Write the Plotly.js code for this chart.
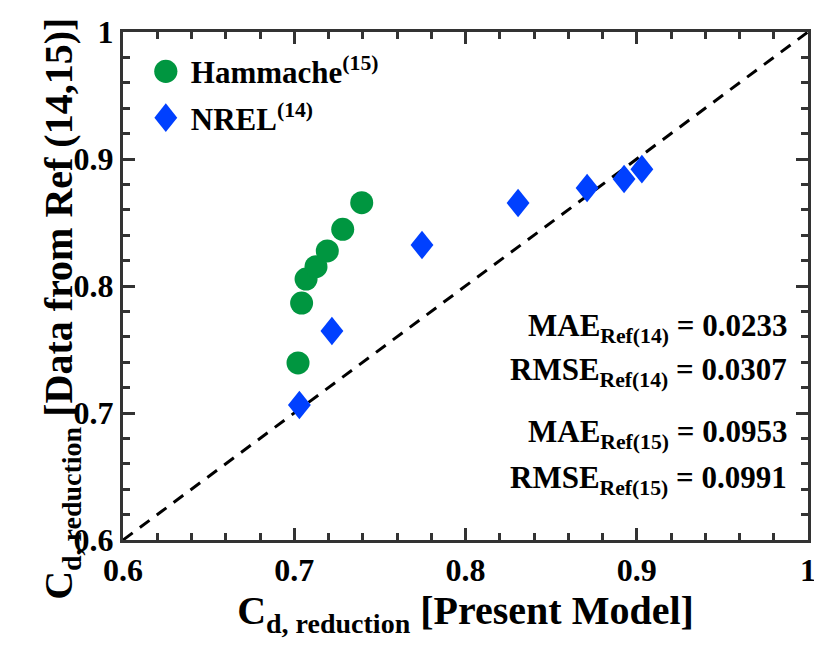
<!DOCTYPE html>
<html>
<head>
<meta charset="utf-8">
<script src="https://cdn.plot.ly/plotly-3.0.1.min.js"></script>
<style>html,body{margin:0;padding:0;background:#fff;}</style>
</head>
<body>
<div id="chart" style="width:814px;height:649px;"></div>
<script>
// Hammache (Ref 15): present model vs reference data
const hamX = [0.7022, 0.7043, 0.7069, 0.7127, 0.7193, 0.7283, 0.7394];
const hamY = [0.7394, 0.7866, 0.8055, 0.8152, 0.8276, 0.8446, 0.8656];
// NREL (Ref 14)
const nrelX = [0.7030, 0.7220, 0.7746, 0.8307, 0.8710, 0.8926, 0.9030];
const nrelY = [0.7063, 0.7646, 0.8323, 0.8654, 0.8772, 0.8843, 0.8920];
// Perfect-agreement line
const lineX = [0.6, 1.0];
const lineY = [0.6, 1.0];
// Tick labels
const tickVals = [0.6, 0.7, 0.8, 0.9, 1.0];
const tickText = ['0.6', '0.7', '0.8', '0.9', '1'];
// Error statistics
const statLabels = ['MAE<sub>Ref(14)</sub> = 0.0233', 'RMSE<sub>Ref(14)</sub> = 0.0307',
                    'MAE<sub>Ref(15)</sub> = 0.0953', 'RMSE<sub>Ref(15)</sub> = 0.0991'];
const statY = [0.418, 0.330, 0.208, 0.119];

const FONT = 'Liberation Serif, Times New Roman, serif';

const traces = [
  {x: lineX, y: lineY, mode: 'lines', showlegend: false, hoverinfo: 'skip',
   line: {color: '#000', width: 3, dash: '12px,9px'}},
  {x: hamX, y: hamY, mode: 'markers', name: '<b>Hammache<sup>(15)</sup></b>', legendgroup: 'a',
   marker: {symbol: 'circle', size: 23, color: '#009640'}},
  {x: nrelX, y: nrelY, mode: 'markers', name: '<b>NREL<sup>(14)</sup></b>', legendgroup: 'b',
   marker: {symbol: 'diamond', size: 22, color: '#0040FF'}}
];

const axisCommon = {
  range: [0.6, 1.0], tickmode: 'array', tickvals: tickVals, ticktext: tickText,
  showgrid: false, zeroline: false, ticklabeloverflow: 'allow',
  showline: true, linecolor: '#333', linewidth: 3, mirror: 'allticks',
  ticks: 'inside', ticklen: 12, tickwidth: 3, tickcolor: '#333',
  minor: {tickmode: 'linear', tick0: 0.6, dtick: 0.02, ticks: 'inside', ticklen: 7, tickwidth: 3, tickcolor: '#333'},
  tickfont: {family: FONT, size: 32, color: '#000', weight: 'bold'},
  fixedrange: true
};

const layout = {
  width: 814, height: 649,
  margin: {l: 123, r: 6, t: 32, b: 109},
  paper_bgcolor: '#fff', plot_bgcolor: '#fff',
  font: {family: FONT, color: '#000'},
  xaxis: Object.assign({}, axisCommon, {
    title: {text: '<b>C<sub>d, reduction</sub> [Present Model]</b>',
            font: {family: FONT, size: 40, color: '#000'}, standoff: 2}
  }),
  yaxis: Object.assign({}, axisCommon, {title: {text: ''}}),
  showlegend: true,
  legend: {x: 0.026, y: 0.975, xanchor: 'left', yanchor: 'top',
           bgcolor: 'rgba(0,0,0,0)', borderwidth: 0, itemwidth: 40,
           font: {family: FONT, size: 31, color: '#000'}, tracegroupgap: 3},
  annotations: [{
    xref: 'paper', yref: 'paper', x: -0.0905, y: 0.455,
    xanchor: 'center', yanchor: 'middle', textangle: -90, showarrow: false,
    text: '<b>C<sub>d, reduction</sub> [Data from Ref (14,15)]</b>',
    font: {family: FONT, size: 40, color: '#000'}
  }].concat(statLabels.map((t, i) => ({
    xref: 'paper', yref: 'paper', x: 0.972, y: statY[i],
    xanchor: 'right', yanchor: 'middle', showarrow: false,
    text: '<b>' + t + '</b>',
    font: {family: FONT, size: 31, color: '#000'}
  })))
};

Plotly.newPlot('chart', traces, layout, {displayModeBar: false, staticPlot: true}).then(gd => {
  // reference diamonds are slightly taller than wide
  const tr = gd.querySelectorAll('.scatterlayer .trace');
  if (tr[2]) tr[2].querySelectorAll('path.point').forEach(p => {
    p.setAttribute('transform', (p.getAttribute('transform') || '') + ' scale(0.8,1)');
  });
  // enlarge legend symbols to match the data markers
  const lt = gd.querySelectorAll('.legend .traces');
  const sc = ['scale(1.45)', 'scale(1.1,1.38)'];
  lt.forEach((g, i) => {
    g.querySelectorAll('path.scatterpts').forEach(p => {
      p.setAttribute('transform', (p.getAttribute('transform') || '') + ' ' + sc[i]);
    });
  });
});
</script>
</body>
</html>
